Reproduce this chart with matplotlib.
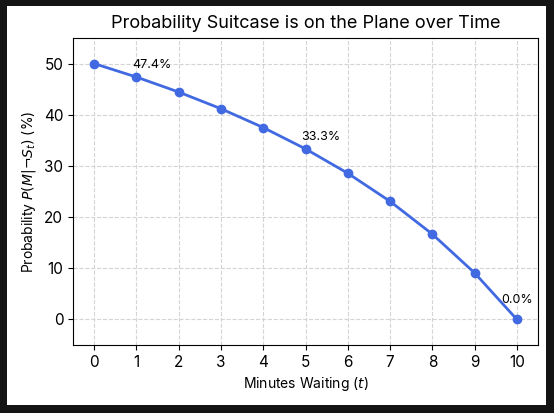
import matplotlib
matplotlib.use("Agg")
import matplotlib.pyplot as plt
from matplotlib.patches import Rectangle

plt.rcParams['font.family'] = ['Inter', 'DejaVu Sans']
plt.rcParams['mathtext.fontset'] = 'dejavusans'

minutes = [0, 1, 2, 3, 4, 5, 6, 7, 8, 9, 10]
probability = [50.0, 47.37, 44.44, 41.18, 37.5, 33.33, 28.57, 23.08, 16.67, 9.09, 0.0]
labeled_idx = [1, 5, 10]
xticks = list(range(0, 11))
yticks = [0, 10, 20, 30, 40, 50]

fig = plt.figure(figsize=(5.54, 4.13), dpi=100, facecolor='#141414')
bg = Rectangle((7/554, 1-405/413), (546-7)/554, (405-6)/413,
               transform=fig.transFigure, facecolor='white',
               edgecolor='none', zorder=-10)
fig.add_artist(bg)
ax = fig.add_axes([73/554, 1-345/413, (538-73)/554, (345-38)/413])
ax.set_zorder(1)

ax.plot(minutes, probability, color='#4169E1', linewidth=2, marker='o', markersize=6)
for i in labeled_idx:
    last = i == len(minutes) - 1
    ha = 'center' if last else 'left'
    dx = 0 if last else -3
    dy = 10 if last else 4
    ax.annotate(f"{probability[i]:.1f}%", (minutes[i], probability[i]),
                xytext=(dx, dy), textcoords='offset points', ha=ha, va='bottom',
                fontsize=9)

ax.set_xlim(-0.5, 10.5)
ax.set_ylim(-5, 55)
ax.set_xticks(xticks)
ax.set_yticks(yticks)
ax.tick_params(labelsize=11)
ax.grid(True, linestyle='--', color='#d4d4d4', linewidth=0.8)
ax.set_axisbelow(True)
ax.set_title("Probability Suitcase is on the Plane over Time", fontsize=13, pad=7)
ax.set_xlabel("Minutes Waiting ($t$)", fontsize=10)
ax.set_ylabel("Probability $P(M|\\neg S_t)$ (%)", fontsize=10)

fig.savefig("out.png", dpi=100, facecolor=fig.get_facecolor())
